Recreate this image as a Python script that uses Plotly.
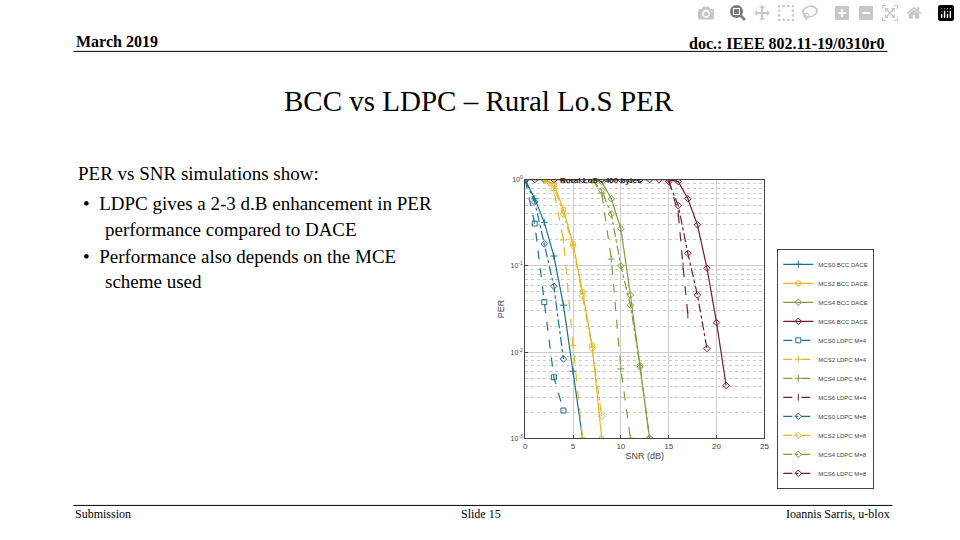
import plotly.graph_objects as go

snr_mcs0_bcc = [0, 1, 2, 3, 4, 5, 6]
per_mcs0_bcc = [1, 0.6, 0.32, 0.13, 0.035, 0.006, 0.001]
snr_mcs2_bcc = [2, 3, 4, 5, 6, 7, 8]
per_mcs2_bcc = [1, 0.9, 0.45, 0.18, 0.05, 0.012, 0.001]
snr_mcs4_bcc = [7, 8, 9, 10, 11, 12, 13]
per_mcs4_bcc = [1, 0.95, 0.6, 0.27, 0.046, 0.0067, 0.001]
snr_mcs6_bcc = list(range(0, 22))
per_mcs6_bcc = [1]*16 + [0.95, 0.6, 0.3, 0.094, 0.022, 0.0041]

snr_mcs0_l4 = [0, 1, 2, 3, 4]
per_mcs0_l4 = [1, 0.31, 0.038, 0.0051, 0.0021]
snr_mcs2_l4 = [2, 3, 4, 5, 6]
per_mcs2_l4 = [1, 0.75, 0.2, 0.012, 0.001]
snr_mcs4_l4 = [7, 8, 9, 10, 11]
per_mcs4_l4 = [1, 0.7, 0.12, 0.0064, 0.001]
snr_mcs6_l4 = [15, 16, 16.5, 17]
per_mcs6_l4 = [1, 0.4, 0.1, 0.027]

snr_mcs0_l8 = [0, 1, 2, 3, 4]
per_mcs0_l8 = [1, 0.55, 0.18, 0.058, 0.0083]
snr_mcs2_l8 = [2, 3, 4, 5, 6, 7, 8]
per_mcs2_l8 = [1, 0.85, 0.4, 0.17, 0.045, 0.011, 0.0018]
snr_mcs4_l8 = [7, 8, 9, 10, 11, 12, 13]
per_mcs4_l8 = [1, 0.75, 0.4, 0.1, 0.035, 0.007, 0.001]
snr_mcs6_l8 = [15, 16, 17, 18, 19]
per_mcs6_l8 = [0.95, 0.5, 0.14, 0.046, 0.011]

y_minor = [m * 10**e for e in (-3, -2, -1) for m in (2, 3, 4, 5, 6, 7, 8, 9)]

BLUE, YEL, GRN, RED = "#1f6e8c", "#e3b824", "#7d9e3a", "#6e1c3a"

series = [
    ("MCS0 BCC DACE", snr_mcs0_bcc, per_mcs0_bcc, BLUE, "solid", "cross-thin-open"),
    ("MCS2 BCC DACE", snr_mcs2_bcc, per_mcs2_bcc, YEL, "solid", "circle-open"),
    ("MCS4 BCC DACE", snr_mcs4_bcc, per_mcs4_bcc, GRN, "solid", "diamond-open"),
    ("MCS6 BCC DACE", snr_mcs6_bcc, per_mcs6_bcc, RED, "solid", "diamond-open"),
    ("MCS0 LDPC M=4", snr_mcs0_l4, per_mcs0_l4, BLUE, "dash", "square-open"),
    ("MCS2 LDPC M=4", snr_mcs2_l4, per_mcs2_l4, YEL, "dash", "cross-thin-open"),
    ("MCS4 LDPC M=4", snr_mcs4_l4, per_mcs4_l4, GRN, "dash", "cross-thin-open"),
    ("MCS6 LDPC M=4", snr_mcs6_l4, per_mcs6_l4, RED, "dash", "line-ns-open"),
    ("MCS0 LDPC M=8", snr_mcs0_l8, per_mcs0_l8, BLUE, "dashdot", "diamond-open"),
    ("MCS2 LDPC M=8", snr_mcs2_l8, per_mcs2_l8, YEL, "dashdot", "diamond-open"),
    ("MCS4 LDPC M=8", snr_mcs4_l8, per_mcs4_l8, GRN, "dashdot", "diamond-open"),
    ("MCS6 LDPC M=8", snr_mcs6_l8, per_mcs6_l8, RED, "dashdot", "diamond-open"),
]

fig = go.Figure()
for name, x, y, c, d, m in series:
    fig.add_trace(go.Scatter(x=x, y=y, name=name, mode="lines+markers",
                             line=dict(color=c, dash=d, width=1.2),
                             marker=dict(symbol=m, size=5, color=c, line=dict(color=c, width=1))))

serif = "Liberation Serif"
fig.update_layout(
    width=960, height=540, margin=dict(l=0, r=0, t=0, b=0),
    paper_bgcolor="white", plot_bgcolor="white", font=dict(family="Liberation Sans", color="#444"),
    xaxis=dict(domain=[527/960, 768/960], range=[0, 25], tickvals=[0, 5, 10, 15, 20, 25],
               showgrid=True, gridcolor="#ccc",
               zeroline=False, showline=True, linecolor="#444", mirror=True, ticks="inside", ticklen=3,
               tickfont=dict(size=8), title=dict(text="SNR (dB)", font=dict(size=9), standoff=2)),
    yaxis=dict(domain=[1-440/540, 1-178/540], type="log", range=[-3, 0],
               tickvals=[0.001, 0.01, 0.1, 1], ticktext=["10<sup>-3</sup>", "10<sup>-2</sup>", "10<sup>-1</sup>", "10<sup>0</sup>"],
               showgrid=True, gridcolor="#ccc",
               minor=dict(tickvals=y_minor, showgrid=True, gridcolor="#ccc", griddash="dot", ticks=""),
               zeroline=False, showline=True, linecolor="#444", mirror=True, ticks="inside", ticklen=3,
               tickfont=dict(size=7), title=dict(text="PER", font=dict(size=9), standoff=4)),
    legend=dict(x=781/960, y=1-248/540, xanchor="left", yanchor="top", font=dict(size=6),
                bordercolor="#444", borderwidth=1, bgcolor="white", tracegroupgap=0, itemwidth=30),
    showlegend=True,
)

ann = [
    dict(text="<b>March 2019</b>", x=73, y=38, xanchor="left", size=16),
    dict(text="<b>doc.: IEEE 802.11-19/0310r0</b>", x=892, y=40, xanchor="right", size=16),
    dict(text="BCC vs LDPC – Rural Lo.S PER", x=480, y=98, xanchor="center", size=29),
    dict(text="PER vs SNR simulations show:", x=75, y=172, xanchor="left", size=19),
    dict(text="•  LDPC gives a 2-3 d.B enhancement in PER", x=80, y=202, xanchor="left", size=19),
    dict(text="performance compared to DACE", x=102, y=228, xanchor="left", size=19),
    dict(text="•  Performance also depends on the MCE", x=80, y=256, xanchor="left", size=19),
    dict(text="scheme used", x=102, y=281, xanchor="left", size=19),
    dict(text="Submission", x=72, y=517, xanchor="left", size=12),
    dict(text="Slide 15", x=483, y=517, xanchor="center", size=12),
    dict(text="Ioannis Sarris, u-blox", x=897, y=517, xanchor="right", size=12),
]
for a in ann:
    fig.add_annotation(text=a["text"], x=a["x"]/960, y=1-a["y"]/540, xref="paper", yref="paper",
                       xanchor=a["xanchor"], yanchor="middle", showarrow=False,
                       font=dict(family=serif, size=a["size"], color="black"))
fig.add_annotation(text="<b>Rural LoS - 400 bytes</b>", x=647/960, y=1-172/540, xref="paper", yref="paper",
                   showarrow=False, font=dict(size=8, color="#222"))
fig.add_shape(type="line", xref="paper", yref="paper", x0=72/960, x1=892/960, y0=1-48/540, y1=1-48/540,
              line=dict(color="black", width=1))
fig.add_shape(type="line", xref="paper", yref="paper", x0=72/960, x1=897/960, y0=1-508/540, y1=1-508/540,
              line=dict(color="black", width=1))
fig.write_html("out.html")

with open("out.html", encoding="utf-8") as f:
    html = f.read()
html = html.replace("<head>", "<head><style>html,body{margin:0;padding:0;overflow:hidden}</style>", 1)
with open("out.html", "w", encoding="utf-8") as f:
    f.write(html)
